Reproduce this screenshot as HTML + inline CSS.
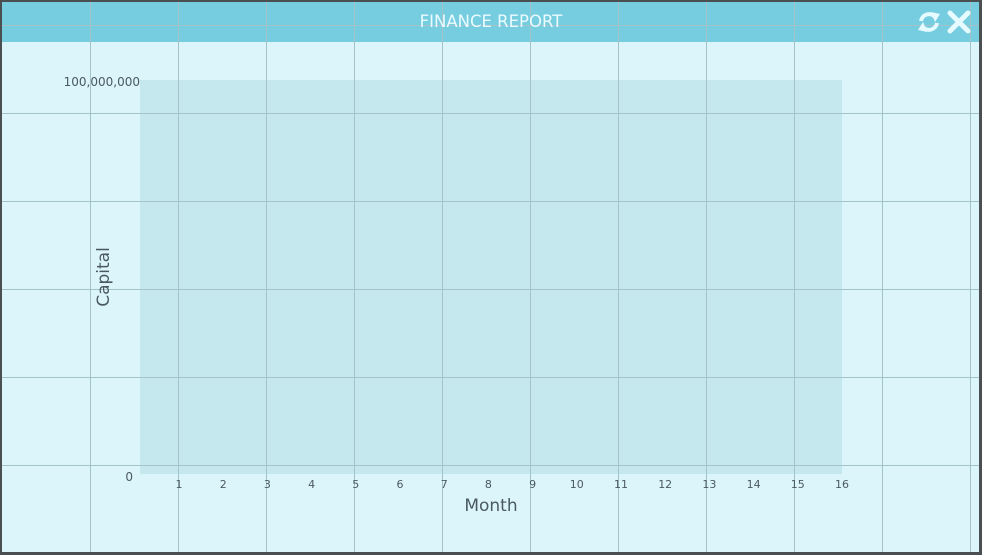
<!DOCTYPE html>
<html><head><meta charset="utf-8"><style>
html,body{margin:0;padding:0;background:#4a4f52;}
#wrap{position:relative;width:982px;height:555px;overflow:hidden;background:#4a4f52;font-family:"DejaVu Sans","Liberation Sans",sans-serif;}
#panel{position:absolute;left:2px;top:2px;width:977px;height:550px;background:#dbf5fb;}
#header{position:absolute;left:2px;top:2px;width:977px;height:40px;background:#76cde0;}
#title{position:absolute;left:0;top:2px;width:982px;height:40px;line-height:40px;text-align:center;color:#eafbff;font-size:16.5px;z-index:2;}
svg{position:absolute;left:0;top:0;}
</style></head><body>
<div id="wrap">
<div id="panel"></div>
<div id="header"></div>
<div id="title">FINANCE REPORT</div>
<svg id="chart" width="982" height="555"></svg>
</div>
<script>
const months = [1,2,3,4,5,6,7,8,9,10,11,12,13,14,15,16];
const yTickValues = [0, 100000000];
const yTickLabels = ["0","100,000,000"];
const capitalValues = [];

const NS="http://www.w3.org/2000/svg";
const svg=document.getElementById('chart');
function mk(tag,attrs,parent){const e=document.createElementNS(NS,tag);for(const k in attrs)e.setAttribute(k,attrs[k]);(parent||svg).appendChild(e);return e;}
const X0=140,X1=842,Y0=474,Y1=80;
function xScale(m){return 178+(m-1)*(841-178)/15;}
function yScale(v){return Y0-(v/100000000)*(Y0-82);}

const pa=mk('rect',{x:X0,y:Y1,width:X1-X0,height:Y0-Y1,fill:'#c4e8ee'});



const g=mk('g',{});


for(let x=90;x<982;x+=88){mk('line',{x1:x+0.5,y1:2,x2:x+0.5,y2:552,stroke:'#a3c3c9','stroke-width':1},g);}
for(let y=25;y<552;y+=88){mk('line',{x1:2,y1:y+0.5,x2:979,y2:y+0.5,stroke:'#a3c3c9','stroke-width':1},g);}

yTickValues.forEach((v,i)=>{
  const t=mk('text',{x:i==0?133:140,y:yScale(v)+(i==0?7:4),'text-anchor':'end','font-size':12,fill:'#4a5a60'});
  t.textContent=yTickLabels[i];
  
  
});
months.forEach(m=>{
  const t=mk('text',{x:xScale(m)+1,y:488,'text-anchor':'middle','font-size':11,fill:'#4a5a60'});
  t.textContent=m;
  
  
});
capitalValues.forEach((v,i)=>{
  const c=mk('circle',{cx:xScale(months[i]),cy:yScale(v),r:3,fill:'#3a8fa0'});
  
  
});
const xt=mk('text',{x:491,y:511,'text-anchor':'middle','font-size':17,fill:'#4a5a60'});
xt.textContent='Month';


const yt=mk('text',{x:0,y:0,'text-anchor':'middle','font-size':17,fill:'#4a5a60',transform:'translate(109,277) rotate(-90)'});
yt.textContent='Capital';



const ref=mk('g',{transform:'translate(929,22)'});


mk('path',{d:'M-8,-1 A8,8 0 0 1 6,-5',fill:'none',stroke:'#e6fbff','stroke-width':4},ref);
mk('polygon',{points:'2,-10 11,-8 6,0',fill:'#e6fbff'},ref);
mk('path',{d:'M8,1 A8,8 0 0 1 -6,5',fill:'none',stroke:'#e6fbff','stroke-width':4},ref);
mk('polygon',{points:'-2,10 -11,8 -6,0',fill:'#e6fbff'},ref);
const cl=mk('g',{transform:'translate(959,22)'});


mk('path',{d:'M-9,-9 L9,9 M9,-9 L-9,9',stroke:'#e6fbff','stroke-width':5,'stroke-linecap':'round'},cl);
</script>
</body></html>
